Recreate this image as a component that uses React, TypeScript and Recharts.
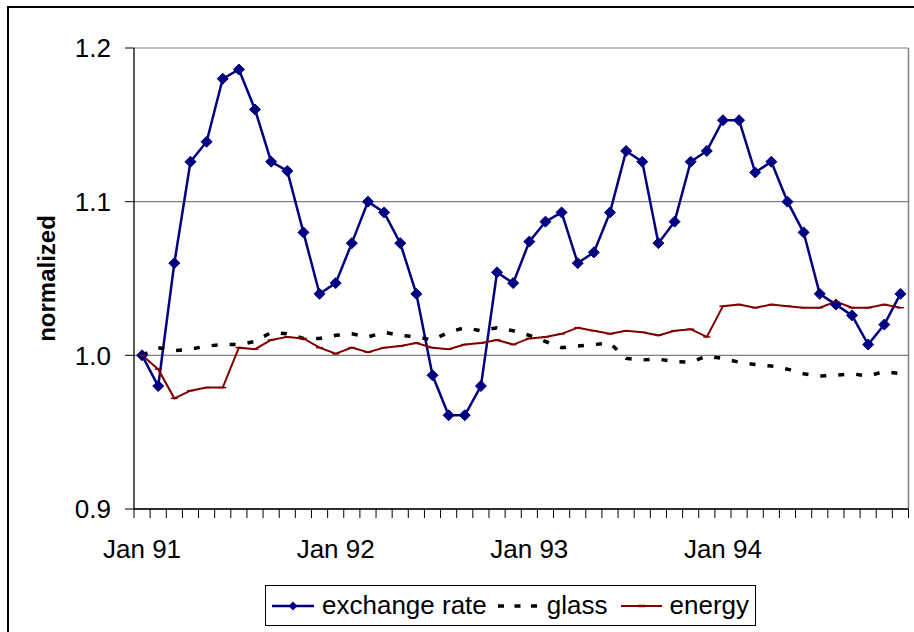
import React from 'react';
import { LineChart, Line, XAxis, YAxis, CartesianGrid, ReferenceLine, Legend } from 'recharts';

const MONTHS = ['Jan', 'Feb', 'Mar', 'Apr', 'May', 'Jun', 'Jul', 'Aug', 'Sep', 'Oct', 'Nov', 'Dec'];
const YEARS = ['91', '92', '93', '94'];
const categories = YEARS.flatMap((y) => MONTHS.map((m) => `${m} ${y}`));
const xTickLabels = ['Jan 91', 'Jan 92', 'Jan 93', 'Jan 94'];
const yTicks = [0.9, 1.0, 1.1, 1.2];

const exchangeRate = [
  1.000, 0.980, 1.060, 1.126, 1.139, 1.180, 1.186, 1.160, 1.126, 1.120, 1.080, 1.040,
  1.047, 1.073, 1.100, 1.093, 1.073, 1.040, 0.987, 0.961, 0.961, 0.980, 1.054, 1.047,
  1.074, 1.087, 1.093, 1.060, 1.067, 1.093, 1.133, 1.126, 1.073, 1.087, 1.126, 1.133,
  1.153, 1.153, 1.119, 1.126, 1.100, 1.080, 1.040, 1.033, 1.026, 1.007, 1.020, 1.040,
];
const glass = [
  1.000, 1.005, 1.003, 1.004, 1.006, 1.007, 1.007, 1.009, 1.015, 1.014, 1.011, 1.011,
  1.013, 1.014, 1.012, 1.015, 1.013, 1.012, 1.010, 1.015, 1.018, 1.016, 1.018, 1.016,
  1.013, 1.009, 1.005, 1.006, 1.007, 1.008, 0.998, 0.997, 0.9975, 0.996, 0.9955, 0.9995,
  0.998, 0.9955, 0.994, 0.993, 0.991, 0.988, 0.9865, 0.987, 0.988, 0.9865, 0.9895, 0.988,
];
const energy = [
  1.000, 0.991, 0.972, 0.977, 0.979, 0.979, 1.005, 1.004, 1.010, 1.012, 1.011, 1.005,
  1.001, 1.005, 1.002, 1.005, 1.006, 1.008, 1.005, 1.004, 1.007, 1.008, 1.010, 1.007,
  1.011, 1.012, 1.014, 1.018, 1.016, 1.014, 1.016, 1.015, 1.013, 1.016, 1.017, 1.012,
  1.032, 1.033, 1.031, 1.033, 1.032, 1.031, 1.031, 1.035, 1.031, 1.031, 1.033, 1.031,
];

const data = categories.map((c, i) => ({
  idx: i,
  month: c,
  exchange: exchangeRate[i],
  glass: glass[i],
  energy: energy[i],
}));

const labelTickIdx = xTickLabels.map((l) => categories.indexOf(l));
const boundaryTicks = Array.from({ length: categories.length + 1 }, (_, k) => k - 0.5);

const FONT = '"Liberation Sans", Arial, sans-serif';
const NAVY = '#000080';
const MAROON = '#800000';

const Diamond = (props: any) => {
  const { cx, cy } = props;
  if (cx == null || cy == null) return null;
  const r = 5.5;
  return (
    <path
      d={`M${cx},${cy - r}L${cx + r},${cy}L${cx},${cy + r}L${cx - r},${cy}Z`}
      fill={NAVY}
      stroke={NAVY}
      strokeWidth={1}
    />
  );
};

const Dash = (props: any) => {
  const { cx, cy } = props;
  if (cx == null || cy == null) return null;
  return <path d={`M${cx - 3.5},${cy}H${cx + 3.5}`} stroke={MAROON} strokeWidth={1.5} fill="none" />;
};

const LegendBox = () => (
  <div
    style={{
      boxSizing: 'border-box',
      width: 491,
      height: 41,
      border: '1px solid #000',
      background: '#fff',
      display: 'flex',
      alignItems: 'center',
      fontFamily: FONT,
      fontSize: 26,
      color: '#000',
      whiteSpace: 'nowrap',
    }}
  >
    <svg width={42} height={12} style={{ marginLeft: 6 }}>
      <line x1={0} y1={6} x2={42} y2={6} stroke={NAVY} strokeWidth={2.5} />
      <path d="M21,1.5L25.5,6L21,10.5L16.5,6Z" fill={NAVY} />
    </svg>
    <span style={{ marginLeft: 8 }}>exchange rate</span>
    <svg width={43} height={12} style={{ marginLeft: 11 }}>
      <line x1={0} y1={6} x2={43} y2={6} stroke="#000" strokeWidth={3.5} strokeDasharray="6 10.5" />
    </svg>
    <span style={{ marginLeft: 6 }}>glass</span>
    <svg width={41} height={12} style={{ marginLeft: 13 }}>
      <line x1={0} y1={6} x2={41} y2={6} stroke={MAROON} strokeWidth={2} />
      <line x1={17} y1={6} x2={24} y2={6} stroke={MAROON} strokeWidth={2.5} />
    </svg>
    <span style={{ marginLeft: 8 }}>energy</span>
  </div>
);

export default function App() {
  return (
    <div
      style={{
        position: 'fixed',
        left: 0,
        top: 0,
        width: 914,
        height: 632,
        overflow: 'hidden',
        background: '#fff',
      }}
    >
      <div
        style={{
          position: 'absolute',
          left: 7,
          top: 6,
          width: 2000,
          height: 2000,
          borderTop: '2px solid #000',
          borderLeft: '2px solid #000',
        }}
      />
      <div style={{ position: 'absolute', left: 0, top: 0 }}>
        <LineChart
          width={914}
          height={632}
          data={data}
          margin={{ top: 48, right: 5.5, bottom: 73, left: 0 }}
          style={{ fontFamily: FONT }}
        >
          <CartesianGrid horizontal vertical={false} stroke="#808080" strokeWidth={1.2} />
          <XAxis
            xAxisId="tk"
            dataKey="idx"
            type="number"
            domain={[-0.5, 47.5]}
            ticks={boundaryTicks}
            interval={0}
            height={50}
            tickSize={9}
            tickFormatter={() => ''}
            axisLine={{ stroke: '#000', strokeWidth: 1.3 }}
            tickLine={{ stroke: '#000', strokeWidth: 1 }}
          />
          <XAxis
            dataKey="idx"
            type="number"
            domain={[-0.5, 47.5]}
            ticks={labelTickIdx}
            interval={0}
            height={0.01}
            tickSize={0}
            tickMargin={31}
            tickLine={false}
            axisLine={false}
            tickFormatter={(v: number) => categories[v]}
            tick={{ fontSize: 26, fill: '#000', fontFamily: FONT }}
          />
          <YAxis
            type="number"
            domain={[0.9, 1.2]}
            ticks={yTicks}
            width={134}
            tickSize={9}
            tickMargin={14}
            tickFormatter={(v: number) => v.toFixed(1)}
            tick={{ fontSize: 26, fill: '#000', fontFamily: FONT }}
            axisLine={{ stroke: '#000', strokeWidth: 1.3 }}
            tickLine={{ stroke: '#000', strokeWidth: 1 }}
            label={{
              value: 'normalized',
              angle: -90,
              position: 'center',
              dx: -20.5,
              style: { fontWeight: 'bold', fontSize: 24, fill: '#000', fontFamily: FONT },
            }}
          />
          <ReferenceLine x={47.5} xAxisId="tk" stroke="#808080" strokeWidth={1.5} />
          <Legend
            layout="horizontal"
            verticalAlign="middle"
            align="center"
            content={() => <LegendBox />}
            wrapperStyle={{ left: 265, top: 585, width: 491, height: 41 }}
          />
          <Line
            dataKey="exchange"
            name="exchange rate"
            stroke={NAVY}
            strokeWidth={2.5}
            dot={<Diamond />}
            activeDot={false}
            isAnimationActive={false}
          />
          <Line
            dataKey="glass"
            name="glass"
            stroke="#000"
            strokeWidth={3.5}
            strokeDasharray="6 12"
            dot={false}
            activeDot={false}
            isAnimationActive={false}
          />
          <Line
            dataKey="energy"
            name="energy"
            stroke={MAROON}
            strokeWidth={2}
            dot={<Dash />}
            activeDot={false}
            isAnimationActive={false}
          />
        </LineChart>
      </div>
    </div>
  );
}
